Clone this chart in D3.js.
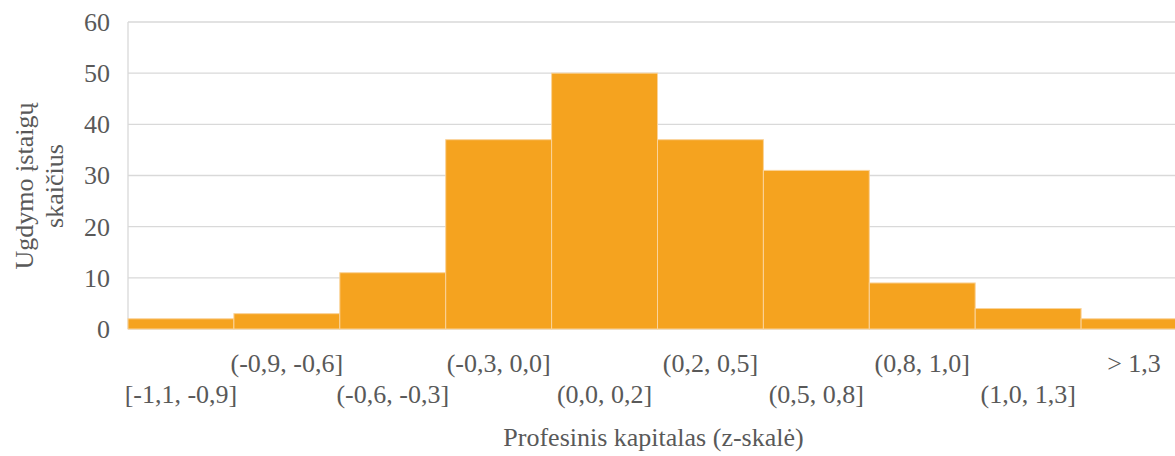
<!DOCTYPE html>
<html>
<head>
<meta charset="utf-8">
<script src="https://cdn.jsdelivr.net/npm/d3@7"></script>
<style>
  body { margin: 0; background: #fff; }
  text { font-family: "Liberation Serif", "Times New Roman", serif; fill: #595959; }
</style>
</head>
<body>
<div id="chart"></div>
<script>
// histogram bins and counts
const bins = ["[-1,1, -0,9]", "(-0,9, -0,6]", "(-0,6, -0,3]", "(-0,3, 0,0]", "(0,0, 0,2]",
              "(0,2, 0,5]", "(0,5, 0,8]", "(0,8, 1,0]", "(1,0, 1,3]", "> 1,3"];
const counts = [2, 3, 11, 37, 50, 37, 31, 9, 4, 2];
const yTicks = [0, 10, 20, 30, 40, 50, 60];
const yTitle = ["Ugdymo įstaigų", "skaičius"];
const xTitle = "Profesinis kapitalas (z-skalė)";

const width = 1175, height = 456;
const margin = {top: 22, right: -12, bottom: 127, left: 128};

const svg = d3.select("#chart").append("svg")
  .attr("width", width)
  .attr("height", height);

const x = d3.scaleBand()
  .domain(bins)
  .range([margin.left, width - margin.right])
  .padding(0);

const y = d3.scaleLinear()
  .domain([0, 60])
  .range([height - margin.bottom, margin.top]);

// gridlines
svg.append("g")
  .selectAll("line")
  .data(yTicks)
  .join("line")
  .attr("x1", margin.left)
  .attr("x2", width)
  .attr("y1", d => y(d))
  .attr("y2", d => y(d))
  .attr("stroke", "#d9d9d9")
  .attr("stroke-width", 1.3);

// left axis line
svg.append("line")
  .attr("x1", margin.left).attr("x2", margin.left)
  .attr("y1", y(60)).attr("y2", y(0))
  .attr("stroke", "#d9d9d9")
  .attr("stroke-width", 1.3);

// bars
svg.append("g")
  .selectAll("rect")
  .data(counts)
  .join("rect")
  .attr("x", (d, i) => x(bins[i]))
  .attr("y", d => y(d))
  .attr("width", x.bandwidth())
  .attr("height", d => y(0) - y(d))
  .attr("fill", "#f5a31f")
  .attr("stroke", "#fad39a")
  .attr("stroke-width", 1);

// y tick labels
svg.append("g")
  .selectAll("text")
  .data(yTicks)
  .join("text")
  .attr("x", 110)
  .attr("y", d => y(d))
  .attr("dy", "0.34em")
  .attr("text-anchor", "end")
  .style("font-size", "26px")
  .text(d => d);

// x category labels, staggered in two rows
svg.append("g")
  .selectAll("text")
  .data(bins)
  .join("text")
  .attr("x", d => x(d) + x.bandwidth() / 2)
  .attr("y", (d, i) => i % 2 === 1 ? 372 : 403)
  .attr("text-anchor", "middle")
  .style("font-size", "26px")
  .text(d => d);

// axis titles
svg.append("text")
  .attr("x", (margin.left + width - margin.right) / 2 - 4)
  .attr("y", 446)
  .attr("text-anchor", "middle")
  .style("font-size", "26px")
  .text(xTitle);

svg.append("g")
  .attr("transform", "translate(0,186) rotate(-90)")
  .selectAll("text")
  .data(yTitle)
  .join("text")
  .attr("x", 0)
  .attr("y", (d, i) => 33 + i * 30)
  .attr("text-anchor", "middle")
  .style("font-size", "26px")
  .text(d => d);
</script>
</body>
</html>
